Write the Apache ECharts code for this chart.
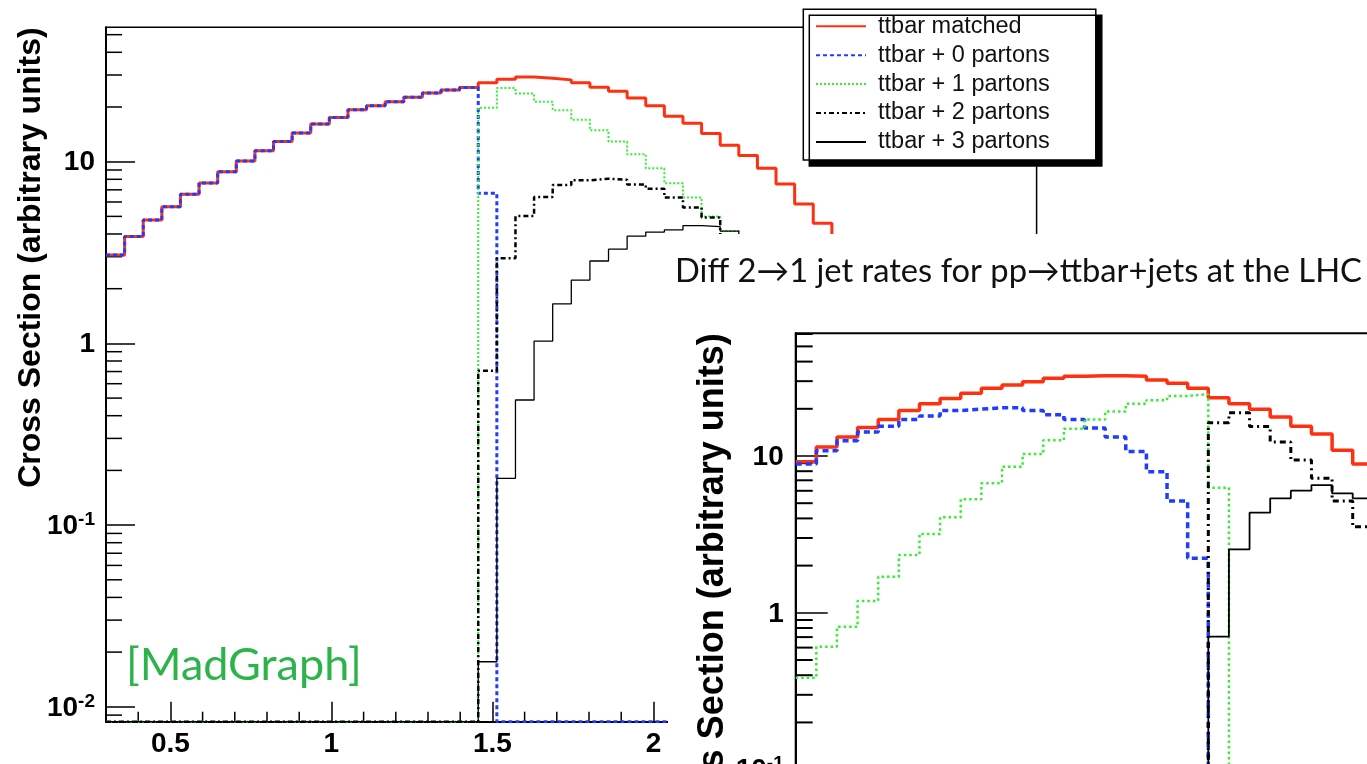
<!DOCTYPE html>
<html><head><meta charset="utf-8">
<script src="https://cdn.jsdelivr.net/npm/echarts@6/dist/echarts.min.js"></script>
<style>html,body{margin:0;padding:0;background:#fff}#c{width:1367px;height:764px}</style>
</head><body><div id="c"></div>
<script>
// ================= DATA =================
const X_MIN = 0.3, X_MAX = 3.19, BIN_W = 0.0578;
const seriesNames = ['ttbar matched', 'ttbar + 0 partons', 'ttbar + 1 partons', 'ttbar + 2 partons', 'ttbar + 3 partons'];
const xTickLabels = [0.5, 1, 1.5, 2, 2.5, 3];

// Background plot ([MadGraph]) - bin contents, bins of BIN_W starting at X_MIN
const mgMatched = [3.07, 3.87, 4.78, 5.65, 6.62, 7.64, 8.81, 10.1, 11.5, 12.9, 14.4, 16.1, 17.5, 19.3, 20.3, 21.4, 22.6, 23.9, 24.8, 25.6,
                   27.2, 28.4, 29.2, 28.8, 28.2, 27.2, 25.7, 24.4, 22.4, 20.3, 17.8, 16.3, 14.3, 12.3, 10.8, 9.19, 7.54, 5.85, 4.58, 3.5];
const mgP0 = [3.07, 3.87, 4.78, 5.65, 6.62, 7.64, 8.81, 10.1, 11.5, 12.9, 14.4, 16.1, 17.5, 19.3, 20.3, 21.4, 22.6, 23.9, 24.8, 25.6,
              6.7, 0, 0, 0, 0, 0, 0, 0, 0, 0, 0, 0, 0, 0, 0, 0, 0, 0, 0, 0];
const mgP1 = [0, 0, 0, 0, 0, 0, 0, 0, 0, 0, 0, 0, 0, 0, 0, 0, 0, 0, 0, 0,
              19.8, 25.4, 23.7, 21.4, 19.2, 17.0, 14.9, 12.9, 11.0, 9.2, 7.6, 6.35, 5.0, 4.15, 3.3];
const mgP2 = [0, 0, 0, 0, 0, 0, 0, 0, 0, 0, 0, 0, 0, 0, 0, 0, 0, 0, 0, 0,
              0.708, 2.94, 5.02, 6.4, 7.45, 7.9, 8.05, 7.95, 7.5, 7.1, 6.35, 5.6, 4.93, 3.6];
const mgP3 = [0, 0, 0, 0, 0, 0, 0, 0, 0, 0, 0, 0, 0, 0, 0, 0, 0, 0, 0, 0,
              0.0177, 0.181, 0.488, 1.03, 1.65, 2.23, 2.84, 3.3, 3.89, 4.1, 4.21, 4.45, 4.39, 4.15, 3.7];

// Foreground plot (Diff 2->1 jet rates at the LHC)
const lhcMatched = [9.2, 11.4, 13.2, 15.2, 17.1, 19.5, 21.5, 23.3, 25.1, 27.0, 28.4, 29.8, 31.3, 32.3, 32.5, 32.5, 32.3,
                    30.5, 29.1, 27.0, 23.5, 21.5, 19.9, 17.7, 15.5, 13.8, 10.9, 8.9];
const lhcP0 = [8.9, 10.8, 12.5, 14.2, 15.5, 17.1, 18.0, 19.5, 19.9, 20.3, 20.3, 19.5, 18.3, 17.1, 15.1, 13.2, 10.7, 7.94, 5.17, 2.23,
               0, 0, 0, 0, 0, 0, 0, 0];
const lhcP1 = [0.385, 0.608, 0.815, 1.19, 1.70, 2.34, 3.18, 4.07, 5.30, 6.70, 8.55, 10.3, 12.6, 14.9, 17.1, 19.2, 21.5, 22.7, 24.1, 24.8,
               6.28, 0, 0, 0, 0, 0, 0, 0];
const lhcP2 = [0, 0, 0, 0, 0, 0, 0, 0, 0, 0, 0, 0, 0, 0, 0, 0, 0, 0, 0, 0,
               16.3, 18.9, 15.4, 12.3, 9.43, 7.21, 5.17, 3.54];
const lhcP3 = [0, 0, 0, 0, 0, 0, 0, 0, 0, 0, 0, 0, 0, 0, 0, 0, 0, 0, 0, 0,
               0.704, 2.54, 4.35, 5.37, 6.01, 6.53, 5.78, 5.37];

const Y1_MIN = 0.00828, Y1_MAX = 54.9;
const Y2_MIN = 0.00828, Y2_MAX = 60.6;

// ================= BUILD =================
const FONT = '"Liberation Sans", Arial, sans-serif';
function hist(vals, ymin) {
  const pts = vals.map((v, i) => [X_MIN + i * BIN_W, v > 0 ? v : ymin]);
  const last = vals[vals.length - 1];
  pts.push([X_MIN + vals.length * BIN_W, last > 0 ? last : ymin]);
  return pts;
}
const style1 = [
  { color: '#ff3010', width: 3, type: 'solid' },
  { color: '#1f3cff', width: 3, type: [4, 3] },
  { color: '#33ee33', width: 2, type: [2, 2] },
  { color: '#000000', width: 2.5, type: [5, 3, 2, 3] },
  { color: '#000000', width: 1.3, type: 'solid' }
];
const style2 = [
  { color: '#ff3010', width: 3.5, type: 'solid' },
  { color: '#1f3cff', width: 3.5, type: [6, 4] },
  { color: '#33ee33', width: 2.5, type: [2.5, 3] },
  { color: '#000000', width: 3, type: [6, 4, 2, 4] },
  { color: '#000000', width: 1.8, type: 'solid' }
];
const mgData = [mgMatched, mgP0, mgP1, mgP2, mgP3];
const lhcData = [lhcMatched, lhcP0, lhcP1, lhcP2, lhcP3];

function logLabel(v) {
  const l = Math.log10(v), e = Math.round(l);
  if (Math.abs(l - e) > 0.01) return '';
  if (e === 0) return '{b|1}';
  if (e === 1) return '{b|10}';
  return '{b|10}{s|' + e + '}';
}
const labelRich = {
  b: { fontFamily: FONT, fontWeight: 'bold', fontSize: 28, color: '#000', lineHeight: 30, verticalAlign: 'bottom' },
  s: { fontFamily: FONT, fontWeight: 'bold', fontSize: 19, color: '#000', lineHeight: 20, verticalAlign: 'top' }
};

function minorYValues(ymin, ymax) {
  const out = [];
  for (let e = -4; e <= 2; e++) for (let m = 2; m <= 9; m++) {
    const v = m * Math.pow(10, e);
    if (v > ymin && v < ymax) out.push(v);
  }
  return out;
}
const minorX = [];
for (let k = 4; k <= 31; k++) if (k % 5 !== 0) minorX.push(k / 10);

function tickSeries(idx, vals, dir, len, lw, ymin, z) {
  return {
    type: 'custom', xAxisIndex: idx, yAxisIndex: idx, z: z, silent: true, clip: false,
    data: vals.map(v => dir === 'y' ? [X_MIN, v] : [v, ymin]),
    renderItem: function (params, api) {
      const p = api.coord([api.value(0), api.value(1)]);
      const shape = dir === 'y'
        ? { x1: p[0], y1: p[1], x2: p[0] + len, y2: p[1] }
        : { x1: p[0], y1: p[1], x2: p[0], y2: p[1] - len };
      return { type: 'line', shape: shape, style: { stroke: '#000', lineWidth: lw } };
    }
  };
}

const series = [];
mgData.forEach((d, i) => series.push({
  name: seriesNames[i], type: 'line', step: 'end', xAxisIndex: 0, yAxisIndex: 0,
  data: hist(d, Y1_MIN), symbol: 'none', showSymbol: false, z: 2,
  lineStyle: style1[i], itemStyle: { color: style1[i].color }
}));
lhcData.forEach((d, i) => series.push({
  name: seriesNames[i], type: 'line', step: 'end', xAxisIndex: 1, yAxisIndex: 1,
  data: hist(d, Y2_MIN), symbol: 'none', showSymbol: false, z: 8,
  lineStyle: style2[i], itemStyle: { color: style2[i].color }
}));
series.push(tickSeries(0, minorYValues(Y1_MIN, Y1_MAX), 'y', 16, 1.5, Y1_MIN, 1));
series.push(tickSeries(0, minorX, 'x', 10, 1.5, Y1_MIN, 1));
series.push(tickSeries(1, minorYValues(Y2_MIN, Y2_MAX), 'y', 17, 2, Y2_MIN, 7));
series.push(tickSeries(1, minorX, 'x', 10, 1.5, Y2_MIN, 7));

function xAxisCfg(gi, z) {
  return {
    gridIndex: gi, type: 'value', min: X_MIN, max: X_MAX, z: z,
    axisLine: { show: true, onZero: false, lineStyle: { color: '#000', width: 2 } },
    axisTick: { show: true, inside: true, length: 20, customValues: xTickLabels, lineStyle: { color: '#000', width: 1.5 } },
    axisLabel: { show: true, customValues: xTickLabels, margin: 9, fontFamily: FONT, fontWeight: 'bold', fontSize: 28, color: '#000',
                 formatter: v => String(v) },
    splitLine: { show: false }
  };
}
function yAxisCfg(gi, ymin, ymax, tickLen, margin, z) {
  return {
    gridIndex: gi, type: 'log', logBase: 10, min: ymin, max: ymax, z: z,
    axisLine: { show: true, lineStyle: { color: '#000', width: 2 } },
    axisTick: { show: true, inside: true, length: tickLen, lineStyle: { color: '#000', width: 1.5 } },
    axisLabel: { show: true, margin: margin, formatter: logLabel, rich: labelRich, showMinLabel: false, showMaxLabel: false },
    splitLine: { show: false }, minorTick: { show: false }
  };
}

const option = {
  animation: false,
  backgroundColor: '#fff',
  grid: [
    { left: 106, top: 27.3, width: 930.6, height: 694.4, show: true, borderColor: '#000', borderWidth: 1.5, z: 0,
      outerBoundsMode: 'none', containLabel: false },
    { left: 795.7, top: 333.3, width: 1031.5, height: 606, show: true, borderColor: '#000', borderWidth: 2, z: 6,
      outerBoundsMode: 'none', containLabel: false }
  ],
  xAxis: [xAxisCfg(0, 1), xAxisCfg(1, 7)],
  yAxis: [yAxisCfg(0, Y1_MIN, Y1_MAX, 29, 11, 1), yAxisCfg(1, Y2_MIN, Y2_MAX, 32, 12, 7)],
  title: [
    { text: 'Diff 2\u21921 jet rates for pp\u2192ttbar+jets at the LHC', left: 675, top: 255, padding: 0, z: 9,
      textStyle: { fontFamily: 'Lato, "Open Sans", sans-serif', fontSize: 32.7, fontWeight: 'normal', color: '#111' } },
    { text: '[MadGraph]', left: 126, top: 643, padding: 0, z: 3,
      textStyle: { fontFamily: 'Lato, "Open Sans", sans-serif', fontSize: 45, fontWeight: 'normal', color: '#2cb34a' } }
  ],
  legend: {
    data: seriesNames, orient: 'vertical', left: 803.3, top: 9.3,
    padding: [5, 46, 6, 11.7], itemWidth: 50, itemHeight: 14, itemGap: 4.9,
    backgroundColor: '#fff', borderColor: '#000', borderWidth: 1.5,
    shadowColor: '#000', shadowOffsetX: 6, shadowOffsetY: 6, shadowBlur: 0,
    selectedMode: false, z: 10,
    itemStyle: { opacity: 0 },
    textStyle: { fontFamily: FONT, fontSize: 23.5, color: '#111', lineHeight: 22.6, padding: [0, 0, 0, 7] }
  },
  graphic: [
    { type: 'rect', shape: { x: 668, y: 234, width: 699, height: 530 }, style: { fill: '#fff' }, z: 5, silent: true },
    { type: 'text', x: 31, y: 27.3, rotation: Math.PI / 2, z: 3, silent: true,
      style: { text: 'Cross Section (arbitrary units)', font: 'bold 32px ' + FONT, fill: '#000', align: 'right', verticalAlign: 'middle' } },
    { type: 'text', x: 713.5, y: 333.3, rotation: Math.PI / 2, z: 9, silent: true,
      style: { text: 'Cross Section (arbitrary units)', font: 'bold 36px ' + FONT, fill: '#000', align: 'right', verticalAlign: 'middle' } }
  ],
  series: series
};
const chart = echarts.init(document.getElementById('c'), null, { renderer: 'canvas' });
chart.setOption(option);
</script></body></html>
